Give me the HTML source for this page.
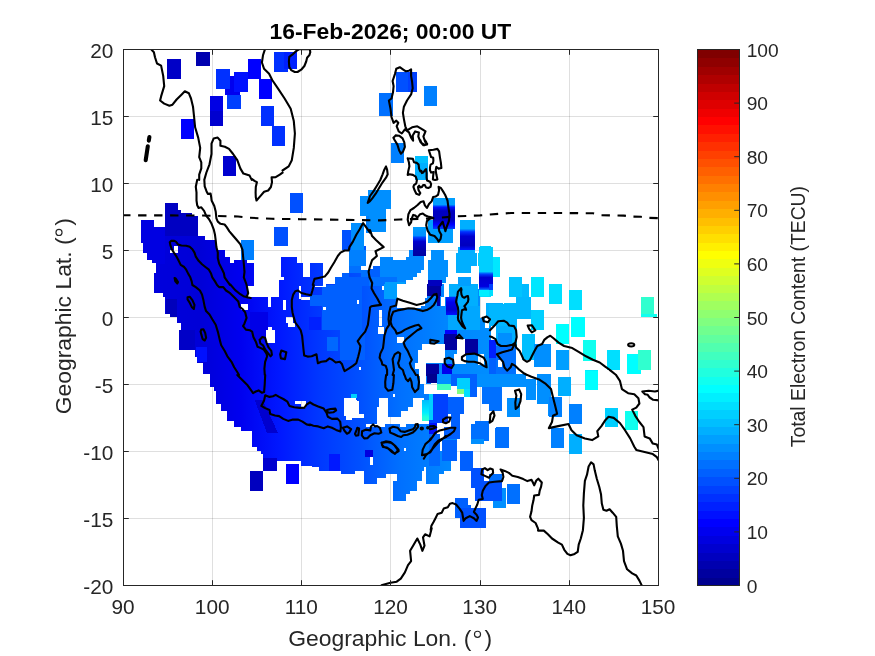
<!DOCTYPE html>
<html><head><meta charset="utf-8"><title>TEC map</title>
<style>html,body{margin:0;padding:0;background:#fff;}body{width:875px;height:656px;position:relative;overflow:hidden;font-family:"Liberation Sans",sans-serif;}</style>
</head><body>
<svg width="875" height="656" viewBox="0 0 875 656" style="position:absolute;left:0;top:0;will-change:transform">
<rect width="875" height="656" fill="#fff"/>
<defs><clipPath id="ax"><rect x="123.50" y="49.50" width="535.00" height="536.00"/></clipPath></defs>
<path d="M212.50 49.50V585.50M301.50 49.50V585.50M390.50 49.50V585.50M480.50 49.50V585.50M569.50 49.50V585.50" stroke="#262626" stroke-opacity="0.15" stroke-width="1" fill="none"/>
<path d="M123.50 518.50H658.50M123.50 451.50H658.50M123.50 384.50H658.50M123.50 317.50H658.50M123.50 250.50H658.50M123.50 183.50H658.50M123.50 116.50H658.50" stroke="#262626" stroke-opacity="0.15" stroke-width="1" fill="none"/>
<g clip-path="url(#ax)">
<g shape-rendering="crispEdges">
<defs><mask id="mm" maskUnits="userSpaceOnUse" x="0" y="0" width="875" height="656"><rect width="875" height="656" fill="#000"/><polygon points="140.7,220.0 154.0,220.0 154.0,226.5 165.4,226.5 165.4,203.2 178.3,203.2 178.3,210.1 180.7,210.1 180.7,212.8 192.4,212.8 192.4,215.8 198.2,215.8 198.2,236.1 205.2,236.1 205.2,240.3 216.4,240.3 216.4,250.1 224.9,250.1 224.9,256.7 230.1,256.7 230.1,263.2 234.2,263.2 234.2,260.1 247.3,260.1 247.3,263.2 250.7,263.2 250.7,285.5 154.4,285.5 154.4,273.2 156.1,273.2 156.1,263.2 151.9,263.2 151.9,259.5 147.1,259.5 147.1,252.6 143.0,252.6 143.0,243.0 140.7,243.0" fill="#fff"/><polygon points="249.3,263.2 254.1,263.2 254.1,285.5 249.3,285.5" fill="#fff"/><polygon points="281.3,257.0 296.6,257.0 296.6,263.2 302.8,263.2 302.8,276.9 310.3,276.9 310.3,263.2 323.4,263.2 323.4,285.5 279.1,285.5 279.1,280.0 283.6,280.0 283.6,277.3 281.3,277.3" fill="#fff"/><polygon points="341.6,230.0 350.8,230.0 350.8,223.1 363.8,223.1 363.8,246.4 365.9,246.4 365.9,266.3 361.1,266.3 361.1,269.7 370.7,269.7 370.7,285.5 335.0,285.5 335.0,276.9 341.6,276.9 341.6,273.2 348.7,273.2 348.7,249.9 341.6,249.9" fill="#fff"/><polygon points="359.7,196.4 367.9,196.4 367.9,189.8 370.7,189.8 370.7,232.7 365.9,232.7 365.9,216.3 359.7,216.3" fill="#fff"/><polygon points="369.3,189.8 390.6,189.8 390.6,209.4 385.8,209.4 385.8,232.0 369.3,232.0" fill="#fff"/><polygon points="379.6,256.7 392.6,256.7 392.6,260.1 406.3,260.1 406.3,256.7 409.1,256.7 409.1,249.9 413.2,249.9 413.2,226.8 426.0,226.8 426.0,256.3 424.2,256.3 424.2,269.7 421.4,269.7 421.4,273.2 417.3,273.2 417.3,277.3 412.5,277.3 412.5,280.0 406.3,280.0 406.3,283.5 397.4,283.5 397.4,285.5 369.3,285.5 369.3,269.1 372.7,269.1 372.7,266.3 379.6,266.3" fill="#fff"/><polygon points="154.4,284.3 154.4,293.2 162.9,293.2 162.9,296.7 165.4,296.7 165.4,313.5 169.8,313.5 169.8,316.8 176.6,316.8 176.6,323.4 180.7,323.4 180.7,330.3 178.7,330.3 178.7,350.1 194.5,350.1 194.5,357.0 196.8,357.0 196.8,363.4 203.4,363.4 203.4,373.5 209.5,373.5 209.5,375.5 250.7,375.5 250.7,297.3 246.6,297.3 246.6,284.3" fill="#fff"/><polygon points="249.3,297.3 267.8,297.3 267.8,306.7 270.6,306.7 270.6,297.3 279.1,297.3 279.1,284.3 298.7,284.3 298.7,298.7 301.4,298.7 301.4,299.8 310.3,299.8 310.3,296.7 301.4,296.7 301.4,284.3 315.1,284.3 315.1,286.6 326.1,286.6 326.1,284.3 370.7,284.3 370.7,375.5 249.3,375.5" fill="#fff"/><polygon points="369.3,284.3 490.7,284.3 490.7,375.5 369.3,375.5" fill="#fff"/><polygon points="209.9,374.3 209.9,387.1 214.4,387.1 214.4,390.8 216.3,390.8 216.3,403.8 220.9,403.8 220.9,410.7 227.3,410.7 227.3,420.5 234.2,420.5 234.2,427.1 241.0,427.1 241.0,430.5 252.4,430.5 252.4,447.3 256.8,447.3 256.8,450.4 261.3,450.4 261.3,453.9 263.6,453.9 263.6,465.5 277.1,465.5 277.1,461.1 301.1,461.1 301.1,465.5 310.7,465.5 310.7,374.3" fill="#fff"/><polygon points="309.3,374.3 430.7,374.3 430.7,465.5 309.3,465.5" fill="#fff"/><polygon points="252.2,439.3 252.2,447.1 256.7,447.1 256.7,450.7 261.3,450.7 261.3,453.7 263.3,453.7 263.3,470.9 276.6,470.9 276.6,460.8 301.0,460.8 301.0,464.7 312.3,464.7 312.3,467.4 319.1,467.4 319.1,470.9 341.1,470.9 341.1,474.3 350.7,474.3 350.7,439.3" fill="#fff"/><polygon points="349.3,439.3 349.3,474.3 354.8,474.3 354.8,470.9 363.7,470.9 363.7,484.2 376.7,484.2 376.7,477.7 385.9,477.7 385.9,474.3 397.3,474.3 397.3,480.9 392.8,480.9 392.8,501.0 406.2,501.0 406.2,494.2 410.3,494.2 410.3,490.7 417.2,490.7 417.2,480.9 421.6,480.9 421.6,470.9 424.1,470.9 424.1,467.4 426.1,467.4 426.1,484.2 439.4,484.2 439.4,474.3 443.9,474.3 443.9,470.9 450.8,470.9 450.8,460.8 454.9,460.8 454.9,450.7 457.0,450.7 457.0,439.3" fill="#fff"/><rect x="173.6" y="246.4" width="4.7" height="6.9" fill="#000"/><rect x="169.8" y="249.9" width="3.8" height="3.4" fill="#000"/><rect x="241.1" y="303.5" width="6.9" height="6.9" fill="#000"/><rect x="283.3" y="300.1" width="2.6" height="9.6" fill="#000"/><rect x="285.9" y="317.2" width="6.6" height="6.2" fill="#000"/><rect x="288.4" y="323.4" width="6.2" height="3.4" fill="#000"/><rect x="265.8" y="330.3" width="8.9" height="13.0" fill="#000"/><rect x="267.8" y="326.8" width="4.1" height="3.4" fill="#000"/><rect x="323.4" y="306.9" width="2.5" height="3.2" fill="#000"/><rect x="357.0" y="300.4" width="2.3" height="3.6" fill="#000"/><rect x="359.3" y="366.9" width="2.1" height="3.4" fill="#000"/><rect x="397.2" y="284.3" width="29.3" height="13.7" fill="#000"/><rect x="397.4" y="298.0" width="27.4" height="7.5" fill="#000"/><rect x="397.4" y="305.6" width="23.3" height="2.5" fill="#000"/><rect x="444.1" y="284.3" width="4.8" height="12.3" fill="#000"/><rect x="441.3" y="296.7" width="3.4" height="8.9" fill="#000"/><rect x="478.3" y="284.3" width="12.3" height="4.8" fill="#000"/><rect x="422.1" y="344.0" width="22.6" height="6.2" fill="#000"/><rect x="418.0" y="350.1" width="26.7" height="13.0" fill="#000"/><rect x="414.6" y="363.2" width="11.7" height="5.5" fill="#000"/><rect x="418.7" y="368.7" width="7.5" height="6.9" fill="#000"/><rect x="457.1" y="339.2" width="7.5" height="14.4" fill="#000"/><rect x="453.7" y="353.6" width="12.3" height="10.3" fill="#000"/><rect x="478.3" y="353.6" width="5.5" height="11.0" fill="#000"/><rect x="377.5" y="326.8" width="6.2" height="6.9" fill="#000"/><rect x="378.9" y="310.4" width="2.7" height="15.8" fill="#000"/><rect x="396.7" y="337.1" width="6.9" height="6.2" fill="#000"/><rect x="381.7" y="286.4" width="2.1" height="3.4" fill="#000"/><rect x="479.7" y="297.1" width="11.0" height="6.7" fill="#000"/><rect x="480.3" y="303.8" width="6.4" height="14.5" fill="#000"/><rect x="484.8" y="318.3" width="3.7" height="9.2" fill="#000"/><rect x="294.9" y="401.1" width="11.0" height="2.7" fill="#000"/><rect x="301.1" y="403.8" width="4.8" height="4.1" fill="#000"/><polygon points="343.6,397.6 355.3,397.6 357.3,401.1 359.4,401.1 359.4,414.1 363.5,414.1 363.5,417.5 351.8,417.5 351.8,420.3 345.7,420.3 345.7,416.1 343.6,416.1" fill="#000"/><polygon points="379.3,397.6 388.2,397.6 388.2,416.8 401.2,416.8 401.2,410.7 408.1,410.7 408.1,407.2 412.9,407.2 412.9,397.6 423.8,397.6 423.8,400.4 421.8,400.4 421.8,420.9 430.7,420.9 430.7,423.7 406.0,423.7 406.0,427.1 399.8,427.1 399.8,423.7 385.4,423.7 385.4,427.1 366.2,427.1 366.2,423.7 377.2,423.7 377.2,407.2 379.3,407.2" fill="#000"/><rect x="419.7" y="374.3" width="6.6" height="9.6" fill="#000"/><rect x="423.8" y="383.9" width="6.9" height="10.0" fill="#000"/><rect x="392.7" y="394.2" width="2.1" height="2.7" fill="#000"/><rect x="403.9" y="447.7" width="2.1" height="3.0" fill="#000"/><rect x="370.3" y="457.3" width="2.5" height="6.9" fill="#000"/><rect x="370.3" y="457.6" width="2.3" height="7.1" fill="#000"/><rect x="403.9" y="447.5" width="2.3" height="3.7" fill="#000"/><rect x="439.4" y="441.4" width="2.2" height="9.3" fill="#000"/></mask><linearGradient id="base" gradientUnits="userSpaceOnUse" x1="130" y1="0" x2="500" y2="0"><stop offset="0.0000" stop-color="#0000df"/><stop offset="0.1892" stop-color="#0000d7"/><stop offset="0.2973" stop-color="#0000ef"/><stop offset="0.4054" stop-color="#0018ff"/><stop offset="0.5135" stop-color="#0038ff"/><stop offset="0.6216" stop-color="#0050ff"/><stop offset="0.7297" stop-color="#0070ff"/><stop offset="0.8649" stop-color="#0087ff"/><stop offset="1.0000" stop-color="#008fff"/></linearGradient><linearGradient id="g1" x1="0" y1="0" x2="0" y2="1"><stop offset="0.000" stop-color="#0030ff"/><stop offset="0.300" stop-color="#0000ef"/><stop offset="0.700" stop-color="#0000cf"/><stop offset="1.000" stop-color="#0010ff"/></linearGradient><linearGradient id="g2" x1="0" y1="0" x2="0" y2="1"><stop offset="0.000" stop-color="#00bfff"/><stop offset="0.600" stop-color="#00efff"/><stop offset="0.800" stop-color="#20ffdf"/><stop offset="1.000" stop-color="#30ffcf"/></linearGradient><linearGradient id="g3" x1="0" y1="0" x2="0" y2="1"><stop offset="0.000" stop-color="#009fff"/><stop offset="0.300" stop-color="#008fff"/><stop offset="0.360" stop-color="#0040ff"/><stop offset="0.500" stop-color="#0000cf"/><stop offset="0.750" stop-color="#0000af"/><stop offset="1.000" stop-color="#00009f"/></linearGradient><linearGradient id="g4" x1="0" y1="0" x2="0" y2="1"><stop offset="0.000" stop-color="#009fff"/><stop offset="0.220" stop-color="#009fff"/><stop offset="0.300" stop-color="#0010ff"/><stop offset="0.420" stop-color="#0000bf"/><stop offset="0.700" stop-color="#0000bf"/><stop offset="0.850" stop-color="#0000ff"/><stop offset="1.000" stop-color="#0040ff"/></linearGradient><linearGradient id="g5" x1="0" y1="0" x2="0" y2="1"><stop offset="0.000" stop-color="#00afff"/><stop offset="0.300" stop-color="#00afff"/><stop offset="0.400" stop-color="#0030ff"/><stop offset="0.550" stop-color="#0000cf"/><stop offset="0.850" stop-color="#0000bf"/><stop offset="1.000" stop-color="#0010ff"/></linearGradient><linearGradient id="g6" x1="0" y1="0" x2="0" y2="1"><stop offset="0.000" stop-color="#0040ff"/><stop offset="0.350" stop-color="#0000df"/><stop offset="1.000" stop-color="#0000af"/></linearGradient><linearGradient id="g7" x1="0" y1="0" x2="0" y2="1"><stop offset="0.000" stop-color="#00cfff"/><stop offset="0.500" stop-color="#00cfff"/><stop offset="0.550" stop-color="#0040ff"/><stop offset="0.620" stop-color="#0000cf"/><stop offset="0.800" stop-color="#0000df"/><stop offset="0.860" stop-color="#0060ff"/><stop offset="0.880" stop-color="#00efff"/><stop offset="1.000" stop-color="#00efff"/></linearGradient></defs><g mask="url(#mm)"><rect x="100" y="40" width="500" height="560" fill="url(#base)"/>
<rect x="165.4" y="203.2" width="33.2" height="32.9" fill="#0000c2"/>
<rect x="140.7" y="220.0" width="24.7" height="43.6" fill="#0000e2"/>
<rect x="341.6" y="230.0" width="9.2" height="19.9" fill="#0050ff"/>
<rect x="350.8" y="223.1" width="13.0" height="26.7" fill="#008fff"/>
<rect x="348.7" y="249.9" width="17.1" height="16.5" fill="#0080ff"/>
<rect x="359.7" y="189.5" width="11.0" height="26.7" fill="#008fff"/>
<rect x="365.9" y="216.3" width="4.8" height="16.5" fill="#0080ff"/>
<rect x="335.0" y="276.9" width="35.7" height="8.6" fill="#0060ff"/>
<rect x="341.6" y="273.2" width="7.1" height="3.7" fill="#0060ff"/>
<rect x="348.7" y="266.3" width="12.3" height="6.9" fill="#0070ff"/>
<rect x="361.1" y="269.7" width="9.6" height="7.5" fill="#0070ff"/>
<rect x="369.3" y="189.5" width="21.3" height="19.9" fill="#008fff"/>
<rect x="369.3" y="209.4" width="16.5" height="22.6" fill="#008fff"/>
<rect x="379.6" y="249.9" width="46.6" height="35.7" fill="#0087ff"/>
<rect x="369.3" y="266.3" width="10.3" height="19.2" fill="#0060ff"/>
<rect x="369.3" y="277.3" width="28.1" height="8.2" fill="#0070ff"/>
<rect x="165.7" y="298.7" width="11.0" height="17.8" fill="#0000bc"/>
<rect x="178.7" y="330.3" width="15.8" height="19.9" fill="#0000c7"/>
<rect x="195.8" y="346.7" width="11.0" height="15.1" fill="#0010ff"/>
<rect x="250.0" y="312.4" width="17.8" height="27.4" fill="#0000e7"/>
<rect x="326.8" y="337.1" width="11.0" height="13.7" fill="#0068ff"/>
<rect x="310.3" y="294.6" width="13.7" height="11.0" fill="#0060ff"/>
<rect x="309.0" y="316.5" width="12.3" height="13.7" fill="#0020ff"/>
<rect x="426.2" y="284.3" width="15.1" height="11.7" fill="#00009f"/>
<rect x="437.2" y="296.0" width="2.7" height="9.6" fill="#0000af"/>
<rect x="444.1" y="333.7" width="13.0" height="15.8" fill="#00009f"/>
<rect x="444.7" y="330.3" width="12.3" height="3.7" fill="#0000ff"/>
<rect x="464.6" y="338.5" width="13.7" height="15.1" fill="#00009f"/>
<rect x="426.2" y="363.9" width="13.0" height="11.7" fill="#00009f"/>
<rect x="442.0" y="363.9" width="10.3" height="11.7" fill="#0000ef"/>
<rect x="448.2" y="305.6" width="31.5" height="24.7" fill="#00a7ff"/>
<rect x="457.8" y="284.3" width="20.6" height="21.3" fill="#00afff"/>
<rect x="383.7" y="284.3" width="13.0" height="14.4" fill="#009fff"/>
<rect x="448.2" y="284.3" width="30.2" height="11.7" fill="#00afff"/>
<rect x="479.7" y="289.1" width="11.0" height="7.5" fill="#00dfff"/>
<rect x="446.1" y="296.7" width="10.6" height="18.1" fill="url(#g1)"/>
<polygon points="254.5,399.7 262.7,399.7 277.8,432.6 266.8,432.6" fill="#0000cf"/>
<rect x="426.6" y="374.3" width="4.1" height="8.9" fill="#00008f"/>
<rect x="351.1" y="394.2" width="6.2" height="3.4" fill="#00cfff"/>
<rect x="421.8" y="400.4" width="8.9" height="20.6" fill="url(#g2)"/>
<rect x="263.3" y="457.8" width="13.3" height="13.0" fill="#0000cf"/>
<rect x="328.7" y="453.7" width="11.0" height="17.1" fill="#0018ff"/>
<rect x="365.1" y="449.6" width="8.2" height="6.9" fill="#0000df"/>
<rect x="322.0" y="285.0" width="40.0" height="45.0" fill="#0060ff"/>
<rect x="340.0" y="330.0" width="25.0" height="30.0" fill="#0060ff"/>
<rect x="385.0" y="282.0" width="20.0" height="16.0" fill="#009fff"/>
</g>
<rect x="167.3" y="59.0" width="13.4" height="20.0" fill="#0000c7"/>
<rect x="196.1" y="52.2" width="13.6" height="13.4" fill="#0000af"/>
<rect x="225.3" y="75.9" width="15.0" height="19.5" fill="#0000ef"/>
<rect x="216.3" y="69.1" width="13.4" height="19.7" fill="#0030ff"/>
<rect x="234.2" y="72.4" width="13.6" height="19.5" fill="#0010ff"/>
<rect x="247.7" y="59.0" width="13.4" height="20.0" fill="#0000ff"/>
<rect x="259.1" y="78.9" width="13.2" height="20.0" fill="#0000ff"/>
<rect x="274.3" y="52.2" width="13.4" height="20.0" fill="#0030ff"/>
<rect x="283.5" y="52.2" width="13.0" height="16.5" fill="#0020ff"/>
<rect x="209.7" y="96.0" width="13.2" height="14.8" fill="#0000e4"/>
<rect x="209.7" y="110.8" width="13.2" height="14.8" fill="#0000cf"/>
<rect x="227.4" y="95.4" width="13.4" height="13.4" fill="#0040ff"/>
<rect x="261.1" y="105.9" width="13.2" height="19.7" fill="#0030ff"/>
<rect x="272.2" y="125.8" width="13.2" height="20.0" fill="#0030ff"/>
<rect x="180.7" y="119.1" width="13.4" height="20.0" fill="#0000ff"/>
<rect x="222.9" y="156.1" width="13.4" height="20.0" fill="#0000cf"/>
<rect x="396.3" y="72.4" width="13.8" height="20.0" fill="#0050ff"/>
<rect x="408.0" y="72.4" width="9.3" height="20.0" fill="#0040ff"/>
<rect x="379.2" y="92.7" width="13.4" height="23.2" fill="#0070ff"/>
<rect x="423.8" y="85.7" width="13.4" height="20.0" fill="#0080ff"/>
<rect x="390.6" y="142.9" width="13.5" height="19.8" fill="#0080ff"/>
<rect x="415.1" y="156.0" width="13.1" height="11.4" fill="#00bfff"/>
<rect x="415.1" y="162.9" width="13.1" height="16.6" fill="#00afff"/>
<rect x="241.1" y="240.3" width="13.0" height="19.2" fill="#0080ff"/>
<rect x="290.0" y="192.9" width="13.0" height="19.9" fill="#0050ff"/>
<rect x="274.4" y="226.5" width="13.3" height="19.9" fill="#0050ff"/>
<rect x="428.3" y="219.7" width="4.8" height="23.3" fill="#009fff"/>
<rect x="433.1" y="229.3" width="19.9" height="13.7" fill="#009fff"/>
<rect x="431.0" y="249.9" width="13.0" height="10.3" fill="#008fff"/>
<rect x="428.3" y="260.1" width="19.9" height="17.1" fill="#008fff"/>
<rect x="428.3" y="277.3" width="17.8" height="5.5" fill="#008fff"/>
<rect x="428.3" y="280.0" width="13.7" height="5.5" fill="#0000bf"/>
<rect x="457.8" y="247.1" width="17.1" height="5.5" fill="#00afff"/>
<rect x="455.7" y="252.6" width="21.3" height="13.7" fill="#00afff"/>
<rect x="455.7" y="266.3" width="15.1" height="6.9" fill="#00afff"/>
<rect x="457.8" y="276.9" width="13.0" height="8.6" fill="#009fff"/>
<rect x="479.7" y="246.4" width="11.0" height="23.3" fill="#00cfff"/>
<rect x="477.7" y="252.6" width="2.1" height="13.7" fill="#00cfff"/>
<rect x="413.2" y="226.8" width="12.8" height="29.5" fill="url(#g3)"/>
<rect x="433.1" y="197.7" width="21.9" height="31.5" fill="url(#g4)"/>
<rect x="459.8" y="219.7" width="15.1" height="30.2" fill="url(#g5)"/>
<rect x="479.7" y="269.7" width="11.0" height="15.8" fill="url(#g6)"/>
<rect x="493.4" y="257.1" width="6.6" height="19.5" fill="#00e7ff"/>
<rect x="516.0" y="283.9" width="13.0" height="19.5" fill="#00baff"/>
<rect x="508.8" y="276.7" width="13.4" height="20.0" fill="#00c4ff"/>
<rect x="531.0" y="276.7" width="13.4" height="20.0" fill="#00e7ff"/>
<rect x="548.9" y="283.5" width="13.4" height="20.0" fill="#00dfff"/>
<rect x="568.9" y="290.1" width="13.4" height="20.0" fill="#00dfff"/>
<rect x="640.5" y="296.8" width="13.4" height="20.0" fill="#30ffcf"/>
<rect x="486.2" y="303.4" width="16.5" height="12.3" fill="#00afff"/>
<rect x="503.7" y="303.4" width="27.4" height="12.3" fill="#00bfff"/>
<rect x="531.0" y="310.0" width="13.4" height="5.8" fill="#00dfff"/>
<rect x="479.0" y="246.9" width="14.4" height="49.4" fill="url(#g7)"/>
<rect x="531.1" y="284.3" width="13.0" height="12.3" fill="#00e7ff"/>
<rect x="549.0" y="284.3" width="13.0" height="19.2" fill="#00dfff"/>
<rect x="569.3" y="290.2" width="12.9" height="19.9" fill="#00dfff"/>
<rect x="570.9" y="317.2" width="13.7" height="19.6" fill="#00ffff"/>
<rect x="555.8" y="323.7" width="13.4" height="20.0" fill="#00ffff"/>
<rect x="582.6" y="340.3" width="13.0" height="20.2" fill="#10ffef"/>
<rect x="584.6" y="370.3" width="13.0" height="5.2" fill="#00efff"/>
<rect x="531.1" y="310.1" width="13.0" height="20.2" fill="#00cfff"/>
<rect x="489.3" y="303.5" width="41.8" height="15.8" fill="#00b7ff"/>
<rect x="516.1" y="296.7" width="15.1" height="6.9" fill="#00b7ff"/>
<rect x="489.3" y="284.3" width="3.4" height="5.5" fill="#0040ff"/>
<rect x="489.3" y="289.8" width="3.4" height="6.2" fill="#00dfff"/>
<rect x="489.3" y="319.3" width="27.4" height="6.9" fill="#00b7ff"/>
<rect x="496.2" y="326.1" width="20.6" height="19.9" fill="#00afff"/>
<rect x="521.5" y="333.7" width="13.7" height="26.1" fill="#00bfff"/>
<rect x="533.9" y="344.0" width="17.1" height="22.9" fill="#008fff"/>
<rect x="555.8" y="350.6" width="13.4" height="19.7" fill="#009fff"/>
<rect x="498.2" y="333.0" width="13.7" height="12.3" fill="#008fff"/>
<rect x="489.3" y="339.9" width="6.9" height="17.8" fill="#0020ff"/>
<rect x="489.3" y="357.7" width="6.9" height="17.8" fill="#0060ff"/>
<rect x="495.5" y="346.0" width="20.6" height="29.5" fill="#0070ff"/>
<rect x="537.3" y="373.5" width="13.7" height="2.1" fill="#008fff"/>
<rect x="498.2" y="360.4" width="3.8" height="6.4" fill="#fff"/>
<rect x="429.3" y="374.3" width="7.5" height="8.2" fill="#00008f"/>
<rect x="436.9" y="374.3" width="13.7" height="9.6" fill="#008fff"/>
<rect x="436.9" y="383.9" width="13.7" height="6.2" fill="#40ffbf"/>
<rect x="450.6" y="374.3" width="26.1" height="11.7" fill="#0060ff"/>
<rect x="464.3" y="386.0" width="12.3" height="11.0" fill="#0060ff"/>
<rect x="457.4" y="377.7" width="12.3" height="11.0" fill="#00cfff"/>
<rect x="464.3" y="388.7" width="5.5" height="8.2" fill="#00dfff"/>
<rect x="457.4" y="388.7" width="6.9" height="5.5" fill="#80ff80"/>
<rect x="476.6" y="374.3" width="49.4" height="13.0" fill="#008fff"/>
<rect x="526.0" y="379.1" width="9.6" height="21.3" fill="#008fff"/>
<rect x="537.0" y="374.3" width="13.7" height="29.5" fill="#008fff"/>
<rect x="547.9" y="403.8" width="2.7" height="12.3" fill="#008fff"/>
<rect x="482.1" y="387.3" width="19.9" height="16.5" fill="#0070ff"/>
<rect x="489.0" y="403.8" width="13.0" height="6.9" fill="#0070ff"/>
<rect x="506.8" y="397.6" width="13.0" height="19.6" fill="#008fff"/>
<rect x="429.3" y="394.2" width="18.5" height="28.8" fill="#0040ff"/>
<rect x="429.3" y="394.2" width="3.4" height="26.1" fill="#00cfff"/>
<rect x="447.8" y="396.9" width="15.8" height="17.1" fill="#0060ff"/>
<rect x="450.6" y="414.1" width="9.6" height="15.8" fill="#0060ff"/>
<rect x="471.1" y="424.4" width="4.1" height="19.2" fill="#0070ff"/>
<rect x="475.3" y="420.9" width="13.4" height="19.6" fill="#0070ff"/>
<rect x="471.1" y="440.6" width="13.0" height="3.0" fill="#0070ff"/>
<rect x="495.6" y="427.4" width="13.3" height="19.9" fill="#0070ff"/>
<rect x="460.2" y="451.1" width="13.0" height="14.4" fill="#0060ff"/>
<rect x="429.3" y="423.0" width="7.5" height="15.1" fill="#0010ff"/>
<rect x="429.3" y="434.0" width="10.3" height="31.5" fill="#0068ff"/>
<rect x="441.7" y="439.5" width="15.1" height="21.9" fill="#0060ff"/>
<rect x="443.7" y="427.1" width="15.8" height="12.3" fill="#0060ff"/>
<rect x="249.9" y="470.9" width="13.4" height="20.2" fill="#0000bf"/>
<rect x="285.5" y="464.4" width="13.4" height="19.7" fill="#0000ff"/>
<rect x="459.7" y="451.0" width="11.0" height="19.9" fill="#0070ff"/>
<rect x="455.3" y="497.9" width="12.9" height="6.6" fill="#0060ff"/>
<rect x="455.3" y="504.5" width="4.4" height="13.0" fill="#0060ff"/>
<rect x="459.7" y="504.5" width="11.0" height="23.3" fill="#0060ff"/>
<rect x="459.9" y="451.0" width="13.0" height="19.9" fill="#0060ff"/>
<rect x="471.1" y="468.1" width="13.0" height="19.9" fill="#0050ff"/>
<rect x="493.1" y="488.0" width="13.0" height="19.9" fill="#008fff"/>
<rect x="475.3" y="481.1" width="26.7" height="19.9" fill="#0050ff"/>
<rect x="489.0" y="474.3" width="13.0" height="6.9" fill="#0070ff"/>
<rect x="506.5" y="484.2" width="13.3" height="20.0" fill="#0070ff"/>
<rect x="455.4" y="497.9" width="13.0" height="20.3" fill="#0060ff"/>
<rect x="459.9" y="507.9" width="26.3" height="19.9" fill="#0050ff"/>
<rect x="495.6" y="439.3" width="13.3" height="8.2" fill="#0080ff"/>
<rect x="471.1" y="439.3" width="13.0" height="4.5" fill="#008fff"/>
<rect x="584.9" y="370.5" width="13.4" height="19.5" fill="#00ffff"/>
<rect x="607.1" y="350.4" width="13.2" height="19.7" fill="#00dfff"/>
<rect x="627.1" y="354.1" width="13.4" height="19.5" fill="#00ffff"/>
<rect x="638.4" y="350.4" width="13.0" height="19.7" fill="#30ffcf"/>
<rect x="605.1" y="407.6" width="12.8" height="19.5" fill="#00cfff"/>
<rect x="625.0" y="410.7" width="13.0" height="19.5" fill="#10ffef"/>
<rect x="558.2" y="376.7" width="12.8" height="19.5" fill="#00afff"/>
<rect x="568.9" y="403.9" width="13.4" height="19.7" fill="#0080ff"/>
<rect x="548.9" y="397.1" width="13.2" height="20.0" fill="#0080ff"/>
<rect x="551.0" y="427.7" width="13.4" height="20.0" fill="#0080ff"/>
<rect x="568.9" y="434.3" width="13.4" height="18.5" fill="#00afff"/>
<rect x="495.4" y="427.7" width="13.4" height="20.0" fill="#0070ff"/>
<rect x="556.1" y="350.0" width="12.8" height="20.2" fill="#009fff"/>
<rect x="640.5" y="314.0" width="16.5" height="3.1" fill="#10ffef"/>
<rect x="568.9" y="449.0" width="13.4" height="4.7" fill="#00afff"/>
</g>
<path d="M150.9 49.1L153.9 52.2L155.0 57.3L157.0 63.5L161.1 65.6L163.2 75.9L164.2 86.1L161.1 96.4L160.1 100.5L164.2 103.6L169.4 105.7L172.5 104.7L176.6 99.5L181.7 94.4L184.8 91.3L188.9 93.3L191.0 98.5L193.0 106.7L194.1 117.0L195.1 127.3L198.2 137.6L200.2 147.9L199.2 157.1L201.3 162.3L201.3 168.4L199.2 174.6L199.2 179.9M204.3 179.9L206.4 172.5L209.5 164.3L211.5 154.0L211.5 143.7L213.6 138.6L217.7 137.6L220.4 140.7L220.4 145.8L224.9 146.8L229.0 148.9L233.1 154.0L237.3 160.2L240.3 168.4L243.4 173.6L249.6 175.6L251.7 179.9M265.0 49.1L263.0 55.3L261.9 62.5L264.0 68.7L269.1 73.8L272.2 80.0L278.4 89.2L284.6 98.5L290.7 108.8L293.8 121.1L294.9 133.5L293.8 147.9L291.8 160.2L288.7 166.4L282.5 170.5M396.3 68.7L399.8 67.2L402.9 69.3L405.9 71.3L409.0 70.7L411.1 69.3L411.1 75.9L412.1 82.0L412.7 88.2L411.1 94.4L407.0 100.5L403.9 106.7L402.9 112.9L403.9 119.1L405.3 126.3L407.0 130.4L412.1 127.3L417.3 126.3L422.4 129.3L425.5 131.4L423.4 136.5L425.1 141.7L427.1 143.7L423.4 145.2L420.3 141.7L418.3 136.5L418.9 132.4L415.2 131.4L412.7 135.5L413.1 140.7L411.1 137.6L409.0 132.4L404.9 129.3L401.8 133.5L398.7 131.4L396.7 126.3L398.3 122.8L396.3 120.7L393.6 122.8L391.5 117.0L390.5 108.8L388.9 100.5L391.5 98.5L393.0 92.3L393.6 86.1L392.6 81.0L395.0 73.8L396.3 68.7M395.7 135.4L393.4 137.7L394.6 140.0L397.4 144.6L399.1 150.3L400.9 153.7L403.1 151.4L404.9 146.9L404.3 142.3L402.6 138.3L399.1 135.7L395.7 135.4M420.3 140.0L421.4 142.9L424.9 145.1L427.1 144.6L426.0 141.7L424.9 140.0M428.9 150.3L433.4 149.7L437.4 148.9L439.1 151.4L439.9 157.1L440.9 162.9L441.4 168.0L438.6 168.6L436.3 166.9L435.7 170.3L436.3 174.3L437.4 179.4L435.1 180.0L432.9 179.4L433.2 175.4L433.7 172.0L431.1 172.6L430.0 170.3L430.0 167.4L430.6 164.6L432.9 163.4L433.4 160.6L433.2 157.7L431.1 157.1L430.0 153.7L428.9 150.3M407.7 158.3L412.9 158.9L414.0 162.3L416.9 162.9L418.6 164.6L419.1 168.6L420.3 171.4L421.4 170.9L422.0 173.1L423.1 172.6L424.9 170.3L426.0 169.1L426.6 173.1L426.6 177.7L427.1 180.6L430.0 181.7L431.1 184.0L430.6 186.9L428.3 188.0L426.0 187.4L424.9 185.1L423.1 185.1L422.0 186.9L420.3 187.4L419.1 185.7L418.0 186.9L418.6 190.3L420.3 193.1L419.1 194.9L416.3 193.7L414.6 190.3L413.4 186.9L414.0 185.1L416.3 183.4L416.9 180.0L415.7 176.6L412.9 174.9L409.4 174.3L407.7 174.9L408.3 170.9L409.4 166.3L408.9 162.3L407.7 158.3M386.0 166.5L387.1 169.7L387.7 174.3L386.0 177.7L382.6 182.3L379.1 188.0L375.7 193.7L372.3 198.3L370.0 201.1L367.7 202.9L368.9 199.4L370.0 196.0L373.4 191.4L376.9 185.7L380.3 180.0L382.6 174.3L384.3 169.7L386.0 166.5M169.8 242.3L171.1 240.9L173.9 240.7L175.9 241.6L178.0 244.4L181.4 245.5L186.2 245.7L189.7 246.8L192.4 249.2L194.5 252.6L195.8 256.7L198.6 260.8L202.0 264.3L205.4 267.0L208.9 269.7L210.9 273.2L212.3 277.3L215.0 281.4L217.1 285.0M169.8 242.3L170.5 245.7L171.8 249.2L173.9 252.6L176.6 256.7L178.7 260.8L180.7 264.9L184.2 267.0L186.2 269.7L188.3 273.9L190.3 277.3L191.7 281.4L192.4 285.0M197.2 179.9L195.8 186.8L196.5 192.3L196.5 200.5L197.2 205.3L198.6 208.0L201.3 207.3L204.1 210.8L206.1 215.6L208.9 219.0L211.6 223.8L213.7 229.3L215.0 234.8L215.7 240.3L216.4 247.1L217.8 252.6L217.8 258.1L219.1 263.6L221.9 269.1L223.9 273.2L224.6 277.3L227.4 281.4L230.1 285.0M204.3 179.5L204.7 186.4L206.5 191.2L207.8 193.9L210.6 193.6L211.2 197.1L211.6 200.5L214.3 206.0L215.7 211.5L216.4 218.3L217.8 221.7L220.5 223.8L224.6 224.5L226.7 227.2L229.4 231.3L232.9 235.5L237.0 240.3L240.4 244.4L242.5 249.9L243.1 256.7L243.8 263.6L244.5 271.8L243.8 277.3L245.9 282.8L246.6 285.0M174.6 278.0L175.9 278.7L178.0 282.1L177.3 283.5L175.3 281.4L174.6 278.0M370.0 232.7L366.6 227.9L363.1 223.1L359.7 229.3L356.3 234.8L352.9 241.6L349.4 247.1L348.7 250.5L344.6 250.5L340.5 252.6L337.8 256.0L334.3 262.2L330.9 267.7L328.2 272.5L324.7 276.6L318.6 278.0L314.5 278.9L313.4 282.8L312.8 285.0M409.1 225.2L407.7 219.7L408.4 214.2L410.5 210.1L413.9 208.0L417.3 205.3L420.7 201.9L423.5 201.2L424.9 205.3L426.9 208.0L429.0 203.9L431.7 201.2L433.1 197.1L435.8 196.4L438.0 194.9L439.1 190.3L438.6 186.9L440.9 188.0L443.1 191.4L445.2 195.0M445.2 195.0L447.5 200.5L448.4 207.3L449.5 214.2L448.9 221.1L446.8 226.5L445.4 231.3L444.1 226.5L442.7 221.7L440.6 224.5L438.6 227.2L439.3 231.3L441.3 234.8L440.6 238.9L438.6 241.6L437.2 238.9L434.5 236.1L430.3 234.8L427.6 230.7L426.2 225.2L426.9 221.1L430.3 218.3L432.4 217.6L429.0 216.9L425.5 215.6L422.8 213.5L420.1 214.2L417.3 217.6L415.3 215.6L413.2 214.9L411.8 218.3L411.1 222.4L409.1 225.2M370.0 230.0L372.1 236.1L376.2 240.3L383.7 247.1L375.5 251.2L376.9 256.0L372.1 260.1L370.0 266.3L368.6 271.8L369.5 277.3L372.2 283.0L371.6 287.6M192.4 285.0L195.8 287.1L199.9 290.5L202.0 294.6L203.4 300.1L204.7 306.9L206.1 311.1L209.5 314.5L212.3 319.3L215.7 324.8L217.8 331.6L219.8 339.9L221.2 345.3L224.6 350.8L227.4 356.3L231.5 361.8L234.2 367.3L237.7 372.8L239.0 375.0M217.1 285.0L219.1 287.1L223.3 287.1L226.0 290.5L230.1 293.2L234.2 297.3L238.3 301.5L239.7 306.9L242.5 309.0L245.2 312.4L246.6 317.9L244.5 323.4L243.1 326.1L245.9 329.6L250.0 330.3M246.6 285.0L248.2 293.2L246.6 297.1L250.7 298.0M230.1 284.3L235.2 290.1L240.3 294.2L243.4 296.2L246.6 297.1M187.6 297.3L189.7 296.7L192.4 300.1L194.5 304.9L193.8 309.0L191.7 306.9L189.7 302.8L187.6 299.4L187.6 297.3M201.3 329.6L203.4 329.2L205.2 333.0L206.1 337.8L204.7 340.5L202.7 339.2L201.3 334.4L200.6 331.6L201.3 329.6M313.8 285.0L312.4 290.5L311.0 295.3L306.2 294.3L301.4 293.0L298.0 290.5L295.3 291.2L293.2 294.6L291.8 300.1L291.8 306.9L292.5 312.4L293.9 317.9L295.3 322.7L298.0 326.1L300.7 330.3L302.1 335.7L302.8 342.6L303.5 349.5L304.2 355.6L307.6 356.6L311.7 356.3L316.5 354.3L317.2 359.1L317.9 363.2L321.3 361.8L326.1 361.1L329.5 358.4L332.3 359.7L335.7 362.5L339.8 361.8L341.9 363.9L343.3 368.0L344.6 371.1L348.7 368.7L352.9 365.9L356.3 363.2L358.3 356.3L359.7 350.8L360.4 346.0L357.7 341.2L361.1 336.4L365.2 331.6L367.9 324.8L369.0 316.5L370.0 308.3M250.0 330.3L252.1 331.6L253.4 337.1L256.2 342.6L257.5 346.7L261.0 348.1L263.7 349.5L266.5 353.6L267.1 356.3L265.1 361.8L264.4 368.7L264.8 375.0M259.6 339.9L262.3 337.1L265.1 337.8L266.5 342.6L268.5 347.4L271.3 350.8L271.9 354.9L270.6 356.3L267.8 352.9L265.1 349.5L263.0 345.3L260.3 343.3L259.6 339.9M281.3 350.6L286.3 352.2L285.0 359.1L280.9 358.4L280.2 354.3L281.3 350.6M397.4 298.7L402.9 300.8L409.8 302.8L416.6 304.9L422.8 303.5L427.6 301.5L431.0 298.0L433.8 294.6L436.5 293.9L437.2 297.3L435.8 301.5L433.8 304.9L431.0 307.6L427.6 309.7L422.8 311.1L418.0 309.7L413.9 308.6L408.4 308.3L402.9 309.4L397.4 310.4L393.3 311.7L391.3 316.5L390.6 322.0L391.9 326.1L395.4 330.3L396.7 333.7L400.9 332.3L405.0 329.6L409.8 327.5L415.3 325.5L418.7 324.8L421.4 328.2L417.3 330.3L413.9 333.0L409.8 336.4L406.3 339.2L403.6 342.6L405.0 346.7L407.7 350.8L409.8 355.6L411.8 359.7L409.8 363.2L411.1 367.3L413.9 371.4L415.9 375.0M397.4 298.7L396.7 302.1L396.1 305.6L390.6 306.9L389.2 312.4L388.5 319.3L389.2 324.8L386.5 328.9L384.4 335.7L383.7 342.6L383.0 348.1L380.3 353.6L379.6 357.7L381.7 361.8L382.3 364.5L385.8 365.9L387.1 370.0L387.1 375.0M392.6 375.0L394.0 370.0L393.3 364.5L392.6 359.1L394.7 354.3L398.1 352.2L400.2 353.6L399.5 359.1L398.1 363.2L399.5 367.3L402.9 370.0L404.3 375.0M371.6 288.4L374.1 293.2L377.5 298.7L379.6 302.8L381.0 304.9L375.5 305.6L371.4 306.3L370.0 307.6M430.3 339.9L438.6 341.2L434.5 343.7L430.3 343.3L430.3 339.9M456.4 337.8L459.1 334.6L462.6 338.5L456.4 337.8M482.5 317.9L486.6 316.5L490.0 319.3L487.9 322.3L483.8 321.3L482.5 317.9M444.7 359.1L448.9 357.7L453.0 359.7L453.7 364.5L451.6 368.0L447.5 366.6L444.7 363.2L444.7 359.1M461.9 357.0L466.0 354.3L474.2 353.6L479.7 355.6L483.8 357.7L485.9 361.8L486.6 367.3L483.8 365.9L479.7 363.2L474.2 361.8L468.7 361.8L464.6 361.1L461.9 359.7L461.9 357.0M490.0 330.3L494.1 326.1L498.2 321.3L503.7 320.7L507.1 322.7L509.2 325.5L514.0 326.1L516.1 330.3L516.7 337.1L515.4 342.6L512.6 344.7L506.5 346.0L501.0 346.0L497.5 344.0L495.5 339.2L492.1 337.1L490.0 336.4M496.9 354.3L502.3 352.2L507.8 350.8L511.9 349.5L514.0 345.3L515.4 344.0L516.1 347.4L519.5 350.8L521.5 354.9L523.6 359.7L527.0 361.8L529.8 360.4L531.8 356.3L534.6 350.8L537.3 346.0L542.1 344.0L544.2 339.9L547.6 337.1L550.3 335.7L553.8 338.5L558.6 342.6L564.1 346.0L572.3 348.1L579.1 352.2L586.0 356.3L592.9 359.7L599.7 362.5L605.2 366.6L610.0 370.0M496.9 354.3L499.6 357.7L503.0 361.8L504.4 367.3L507.1 370.7L510.6 367.3L511.9 363.9L515.4 365.9L519.5 370.0L524.3 373.5L527.0 375.0M527.7 325.5L531.8 325.2L535.3 330.3L531.8 332.3L529.1 328.9L527.7 325.5M237.3 375.0L242.8 380.5L247.6 385.3L251.0 390.1L253.1 393.1L255.8 391.5L258.6 390.4L262.0 392.8L264.1 392.1L264.7 384.6L265.2 375.0M310.0 402.4L306.6 404.5L304.5 407.6L299.7 407.9L294.2 407.2L289.4 405.9L287.4 401.7L283.3 399.0L279.1 396.9L275.7 394.9L273.0 396.3L269.5 396.9L265.2 395.3L264.1 400.4L261.3 405.9L264.7 407.9L269.5 410.0L270.2 414.1L275.0 415.5L279.1 416.1L283.3 418.9L288.1 420.9L292.9 419.6L298.3 419.6L302.5 421.6L306.6 424.4L310.0 425.1M310.0 402.4L313.4 404.5L318.2 406.5L323.7 408.6L326.5 412.7L327.8 416.8L331.9 418.9L337.4 418.6L340.2 421.6L340.9 427.1L340.4 431.5L336.1 429.9L331.9 427.8L327.8 426.4L323.7 428.2L318.2 426.4L313.4 425.7L310.0 424.6M327.1 410.0L330.6 409.0L335.4 408.6L336.1 410.4L333.3 412.3L329.2 412.7L327.1 411.8L327.1 410.0M342.9 427.8L347.0 426.4L351.1 429.2L349.1 432.6L347.0 433.7L344.3 430.5L342.9 427.8M357.3 427.8L359.1 428.5L358.3 435.3L355.9 435.6L355.0 434.0L356.6 429.9L357.3 427.8M362.1 431.2L366.2 429.6L370.3 430.5L371.0 426.4L373.1 424.4L375.1 426.4L377.2 426.0L379.9 427.8L381.3 432.6L378.6 433.7L374.5 433.3L370.3 435.3L367.6 438.1L364.2 438.4L361.8 435.3L362.1 431.2M389.5 428.5L393.0 426.8L397.8 427.8L400.5 431.2L404.6 431.9L408.7 430.5L412.9 429.2L414.9 427.1L415.6 424.4L417.7 424.1L418.1 426.8L415.6 429.9L412.9 432.6L407.4 434.7L403.3 435.3L401.2 437.0L397.8 436.0L393.7 434.0L390.2 432.6L389.5 428.5M382.0 442.9L386.8 441.9L391.6 442.9L395.7 446.3L398.5 449.7L395.0 453.9L391.6 451.8L388.2 448.4L384.1 447.0L382.0 444.9L382.0 442.9M386.1 375.0L385.2 381.9L385.4 387.3L388.2 390.8L392.3 389.8L393.4 383.2L393.9 375.0M404.6 375.0L406.0 379.1L408.1 381.2L410.1 378.4L411.5 381.9L412.2 387.3L414.9 392.1L418.3 388.7L419.0 381.9L417.7 375.0M515.0 390.8L519.1 389.4L521.2 394.2L520.5 401.1L518.5 406.5L515.7 409.0L515.3 402.4L516.4 395.6L515.0 390.8M490.3 414.8L493.4 411.3L494.5 415.5L492.4 420.9L489.7 422.7L490.1 418.2L490.3 414.8M443.0 419.6L446.5 417.5L450.6 417.5L449.2 421.6L445.8 423.3L443.0 422.3L443.0 419.6M430.0 426.4L434.1 426.0L436.2 427.4L432.7 428.8L430.0 429.2M430.0 439.5L432.7 436.7L435.5 432.6L439.6 430.5L445.1 429.2L450.6 427.8L455.4 427.8L454.0 431.2L450.6 434.0L446.5 436.7L442.3 438.8L438.2 440.8L434.8 444.3L432.1 449.1L430.0 451.8L425.9 455.2L423.8 458.7M381.5 442.7L385.7 441.4L390.5 442.1L394.6 445.5L398.7 451.0L394.6 453.7L391.1 450.3L387.0 447.5L382.9 446.9L381.5 442.7M432.7 436.7L430.2 440.0L425.4 444.1L422.7 449.6L422.0 455.1L426.1 454.4L430.2 452.3L433.0 448.2L437.8 442.7L441.2 440.0L446.0 435.9M482.1 469.5L484.9 468.1L487.6 470.2L490.3 468.5L492.8 469.5L493.1 472.9L490.3 475.7L489.0 477.7L484.9 475.9L481.4 474.3L482.1 469.5M500.6 469.5L504.7 470.9L508.9 472.9L512.3 475.7L517.8 477.0L523.3 479.1L527.4 481.1L531.5 479.8L532.9 482.5L534.2 485.3L536.3 480.5L538.3 478.7L541.8 482.5L541.1 486.6L539.7 490.7L539.0 494.9L534.2 495.5L533.5 500.3L532.2 505.8L531.5 511.3L530.1 516.8L531.5 520.2L535.6 523.0L537.7 527.8L538.3 530.0M500.6 469.5L502.7 472.9L503.4 477.0L502.0 481.1L494.5 481.8L489.0 482.5L485.5 485.9L482.8 490.7L481.8 494.9L482.8 499.0L478.7 499.7L477.3 504.5L475.3 508.6L473.9 512.0L476.6 514.7L478.0 517.5L476.6 520.9L473.9 518.2L469.8 516.1L465.7 518.2L463.6 520.9L462.9 516.8L462.2 512.7L459.5 508.6L456.1 504.5L452.6 503.1L449.9 503.8L447.8 507.2L443.7 508.6L441.7 512.7L437.5 514.1L435.5 518.2L433.4 522.3L431.4 525.7L430.7 530.0M610.0 370.1L615.8 374.7L619.9 380.8L621.9 389.1L628.1 393.2L634.3 394.2L638.4 398.3L639.4 403.5L636.3 407.6L632.2 409.6L635.3 415.8L639.4 422.0L643.5 427.1L644.6 436.4L649.7 438.4L652.8 443.6L656.9 444.6L659.0 449.9L662.1 456.9M661.0 390.3L654.9 391.5L648.7 390.7L642.3 391.5L645.0 394.2L647.7 394.8L649.7 397.5L653.2 399.8L661.0 400.6M548.9 428.1L552.0 422.0L553.0 415.8L557.1 413.7L555.1 405.5L553.0 397.3L551.0 389.1L545.8 383.9L539.7 379.8L531.4 376.7L524.2 373.6L519.1 369.5M548.9 428.1L558.2 426.1L568.5 424.0L571.5 430.2L576.7 435.3L584.9 438.4L592.1 440.1L598.3 436.4L597.3 431.2L601.4 426.1L605.5 419.9L608.6 416.8L613.7 417.9L619.9 423.0L625.0 430.2L630.2 438.4L634.3 446.7L636.3 449.9M538.0 530.6L543.8 530.6L547.9 534.3L552.0 538.5L558.2 542.6L561.9 544.6L564.3 549.8L567.4 553.9L570.5 555.3L574.6 553.9L577.7 551.8L578.7 544.6L580.8 538.5L582.9 530.2L583.9 517.9L583.3 505.5L583.9 493.2L584.9 480.9L587.0 474.7L588.6 466.5L591.1 462.3L593.6 464.4L594.8 470.6L596.8 478.8L599.3 487.0L601.0 494.2L601.8 503.5L603.4 509.7L606.5 510.7L609.6 509.2L612.7 512.7L616.2 516.9L616.8 526.1L617.8 536.4L620.9 543.6L623.0 550.8L624.0 561.1L627.1 569.3L632.2 573.4L636.3 575.5L639.4 580.6L641.5 584.9L644.6 591.9M636.3 450.0L644.6 452.1L652.8 454.1L656.9 457.2L658.6 460.3L661.0 462.3M378.2 587.8L382.3 584.9L390.5 582.7L396.7 581.7L400.8 578.6L404.9 572.4L408.0 565.2L411.1 561.1L410.1 550.8L413.1 545.7L417.3 538.5L420.3 544.6L422.4 550.8L424.5 545.7L423.0 537.4L425.1 534.3L429.6 536.4L431.7 528.2M461.1 288.2L459.3 290.1L457.9 291.9L457.4 295.5L456.5 299.2L456.1 301.9L457.0 304.7L457.9 307.4L458.3 311.1L458.2 314.7L457.9 317.5L458.3 320.2L460.2 323.0L462.0 325.7L463.8 327.5L465.2 328.5L463.8 325.7L462.5 323.0L461.5 320.2L461.1 317.5L461.5 313.8L462.0 310.2L464.3 309.3L466.1 309.7L465.2 307.4L464.3 306.1L466.1 304.2L467.9 301.9L468.4 299.2L467.9 296.0L466.1 296.5L464.3 297.8L462.5 296.9L461.5 294.6L461.1 291.9L461.5 289.6L461.1 288.2M299.4 49.1L295.7 51.4L293.0 54.1L289.3 56.9L288.9 61.5L289.3 66.9L291.1 70.1L294.8 72.0L297.5 72.0L301.2 69.7L304.4 66.0L306.2 61.5L307.1 57.8L309.4 55.1L310.3 52.3L309.9 49.1L299.4 49.1M251.7 178.8L254.5 180.9L256.9 182.2L255.8 187.0L255.6 192.5L255.8 197.3L256.5 200.5L259.9 196.6L264.1 191.8L268.2 190.5L270.9 187.0L272.0 182.2L271.6 177.4L275.7 177.2L279.8 174.7L282.6 172.6" fill="none" stroke="#000" stroke-width="2.1" stroke-linejoin="round" stroke-linecap="round"/><path d="M149.4 137.0L148.8 140.7M147.8 146.2L145.7 160.2" fill="none" stroke="#000" stroke-width="4.1" stroke-linejoin="round" stroke-linecap="round"/><path d="M123.0 215.3L200.0 215.5L238.0 216.5L250.0 217.8L272.0 218.8L300.0 219.2L340.0 219.8L380.0 220.4L400.0 219.5L430.0 218.5L457.0 216.3L480.0 215.4L490.0 214.5L511.0 213.0L560.0 213.0L593.0 213.3L601.0 215.2L624.0 215.6L632.0 216.6L641.0 216.8L648.0 217.8L659.0 218.2" fill="none" stroke="#000" stroke-width="2.1" stroke-dasharray="8.4 7.6" stroke-dashoffset="0.9"/><ellipse cx="421.8" cy="428.5" rx="1.2" ry="1.0" fill="none" stroke="#000" stroke-width="2"/><ellipse cx="427.9" cy="427.8" rx="0.8" ry="0.7" fill="none" stroke="#000" stroke-width="2"/><ellipse cx="631.2" cy="344.8" rx="3.1" ry="1.6" fill="none" stroke="#000" stroke-width="2"/>
</g>
<rect x="123.50" y="49.50" width="535.00" height="536.00" fill="none" stroke="#262626" stroke-width="1"/>
<path d="M123.50 585.50v-5.30M123.50 49.50v5.30M212.50 585.50v-5.30M212.50 49.50v5.30M301.50 585.50v-5.30M301.50 49.50v5.30M390.50 585.50v-5.30M390.50 49.50v5.30M480.50 585.50v-5.30M480.50 49.50v5.30M569.50 585.50v-5.30M569.50 49.50v5.30M658.50 585.50v-5.30M658.50 49.50v5.30M123.50 585.50h5.30M658.50 585.50h-5.30M123.50 518.50h5.30M658.50 518.50h-5.30M123.50 451.50h5.30M658.50 451.50h-5.30M123.50 384.50h5.30M658.50 384.50h-5.30M123.50 317.50h5.30M658.50 317.50h-5.30M123.50 250.50h5.30M658.50 250.50h-5.30M123.50 183.50h5.30M658.50 183.50h-5.30M123.50 116.50h5.30M658.50 116.50h-5.30M123.50 49.50h5.30M658.50 49.50h-5.30" stroke="#262626" stroke-width="1" fill="none"/>
<rect x="697.50" y="577.12" width="42.00" height="8.38" fill="#00008f" shape-rendering="crispEdges"/>
<rect x="697.50" y="568.75" width="42.00" height="8.88" fill="#00009f" shape-rendering="crispEdges"/>
<rect x="697.50" y="560.38" width="42.00" height="8.88" fill="#0000af" shape-rendering="crispEdges"/>
<rect x="697.50" y="552.00" width="42.00" height="8.88" fill="#0000bf" shape-rendering="crispEdges"/>
<rect x="697.50" y="543.62" width="42.00" height="8.88" fill="#0000cf" shape-rendering="crispEdges"/>
<rect x="697.50" y="535.25" width="42.00" height="8.88" fill="#0000df" shape-rendering="crispEdges"/>
<rect x="697.50" y="526.88" width="42.00" height="8.88" fill="#0000ef" shape-rendering="crispEdges"/>
<rect x="697.50" y="518.50" width="42.00" height="8.88" fill="#0000ff" shape-rendering="crispEdges"/>
<rect x="697.50" y="510.12" width="42.00" height="8.88" fill="#0010ff" shape-rendering="crispEdges"/>
<rect x="697.50" y="501.75" width="42.00" height="8.88" fill="#0020ff" shape-rendering="crispEdges"/>
<rect x="697.50" y="493.38" width="42.00" height="8.88" fill="#0030ff" shape-rendering="crispEdges"/>
<rect x="697.50" y="485.00" width="42.00" height="8.88" fill="#0040ff" shape-rendering="crispEdges"/>
<rect x="697.50" y="476.62" width="42.00" height="8.88" fill="#0050ff" shape-rendering="crispEdges"/>
<rect x="697.50" y="468.25" width="42.00" height="8.88" fill="#0060ff" shape-rendering="crispEdges"/>
<rect x="697.50" y="459.88" width="42.00" height="8.88" fill="#0070ff" shape-rendering="crispEdges"/>
<rect x="697.50" y="451.50" width="42.00" height="8.88" fill="#0080ff" shape-rendering="crispEdges"/>
<rect x="697.50" y="443.12" width="42.00" height="8.88" fill="#008fff" shape-rendering="crispEdges"/>
<rect x="697.50" y="434.75" width="42.00" height="8.88" fill="#009fff" shape-rendering="crispEdges"/>
<rect x="697.50" y="426.38" width="42.00" height="8.88" fill="#00afff" shape-rendering="crispEdges"/>
<rect x="697.50" y="418.00" width="42.00" height="8.88" fill="#00bfff" shape-rendering="crispEdges"/>
<rect x="697.50" y="409.62" width="42.00" height="8.88" fill="#00cfff" shape-rendering="crispEdges"/>
<rect x="697.50" y="401.25" width="42.00" height="8.88" fill="#00dfff" shape-rendering="crispEdges"/>
<rect x="697.50" y="392.88" width="42.00" height="8.88" fill="#00efff" shape-rendering="crispEdges"/>
<rect x="697.50" y="384.50" width="42.00" height="8.88" fill="#00ffff" shape-rendering="crispEdges"/>
<rect x="697.50" y="376.12" width="42.00" height="8.88" fill="#10ffef" shape-rendering="crispEdges"/>
<rect x="697.50" y="367.75" width="42.00" height="8.88" fill="#20ffdf" shape-rendering="crispEdges"/>
<rect x="697.50" y="359.38" width="42.00" height="8.88" fill="#30ffcf" shape-rendering="crispEdges"/>
<rect x="697.50" y="351.00" width="42.00" height="8.88" fill="#40ffbf" shape-rendering="crispEdges"/>
<rect x="697.50" y="342.62" width="42.00" height="8.88" fill="#50ffaf" shape-rendering="crispEdges"/>
<rect x="697.50" y="334.25" width="42.00" height="8.88" fill="#60ff9f" shape-rendering="crispEdges"/>
<rect x="697.50" y="325.88" width="42.00" height="8.88" fill="#70ff8f" shape-rendering="crispEdges"/>
<rect x="697.50" y="317.50" width="42.00" height="8.88" fill="#80ff80" shape-rendering="crispEdges"/>
<rect x="697.50" y="309.12" width="42.00" height="8.88" fill="#8fff70" shape-rendering="crispEdges"/>
<rect x="697.50" y="300.75" width="42.00" height="8.88" fill="#9fff60" shape-rendering="crispEdges"/>
<rect x="697.50" y="292.38" width="42.00" height="8.88" fill="#afff50" shape-rendering="crispEdges"/>
<rect x="697.50" y="284.00" width="42.00" height="8.88" fill="#bfff40" shape-rendering="crispEdges"/>
<rect x="697.50" y="275.62" width="42.00" height="8.88" fill="#cfff30" shape-rendering="crispEdges"/>
<rect x="697.50" y="267.25" width="42.00" height="8.88" fill="#dfff20" shape-rendering="crispEdges"/>
<rect x="697.50" y="258.88" width="42.00" height="8.88" fill="#efff10" shape-rendering="crispEdges"/>
<rect x="697.50" y="250.50" width="42.00" height="8.88" fill="#ffff00" shape-rendering="crispEdges"/>
<rect x="697.50" y="242.12" width="42.00" height="8.88" fill="#ffef00" shape-rendering="crispEdges"/>
<rect x="697.50" y="233.75" width="42.00" height="8.88" fill="#ffdf00" shape-rendering="crispEdges"/>
<rect x="697.50" y="225.38" width="42.00" height="8.88" fill="#ffcf00" shape-rendering="crispEdges"/>
<rect x="697.50" y="217.00" width="42.00" height="8.88" fill="#ffbf00" shape-rendering="crispEdges"/>
<rect x="697.50" y="208.62" width="42.00" height="8.88" fill="#ffaf00" shape-rendering="crispEdges"/>
<rect x="697.50" y="200.25" width="42.00" height="8.88" fill="#ff9f00" shape-rendering="crispEdges"/>
<rect x="697.50" y="191.88" width="42.00" height="8.88" fill="#ff8f00" shape-rendering="crispEdges"/>
<rect x="697.50" y="183.50" width="42.00" height="8.88" fill="#ff8000" shape-rendering="crispEdges"/>
<rect x="697.50" y="175.12" width="42.00" height="8.88" fill="#ff7000" shape-rendering="crispEdges"/>
<rect x="697.50" y="166.75" width="42.00" height="8.88" fill="#ff6000" shape-rendering="crispEdges"/>
<rect x="697.50" y="158.38" width="42.00" height="8.88" fill="#ff5000" shape-rendering="crispEdges"/>
<rect x="697.50" y="150.00" width="42.00" height="8.88" fill="#ff4000" shape-rendering="crispEdges"/>
<rect x="697.50" y="141.62" width="42.00" height="8.88" fill="#ff3000" shape-rendering="crispEdges"/>
<rect x="697.50" y="133.25" width="42.00" height="8.88" fill="#ff2000" shape-rendering="crispEdges"/>
<rect x="697.50" y="124.88" width="42.00" height="8.88" fill="#ff1000" shape-rendering="crispEdges"/>
<rect x="697.50" y="116.50" width="42.00" height="8.88" fill="#ff0000" shape-rendering="crispEdges"/>
<rect x="697.50" y="108.12" width="42.00" height="8.88" fill="#ef0000" shape-rendering="crispEdges"/>
<rect x="697.50" y="99.75" width="42.00" height="8.88" fill="#df0000" shape-rendering="crispEdges"/>
<rect x="697.50" y="91.38" width="42.00" height="8.88" fill="#cf0000" shape-rendering="crispEdges"/>
<rect x="697.50" y="83.00" width="42.00" height="8.88" fill="#bf0000" shape-rendering="crispEdges"/>
<rect x="697.50" y="74.62" width="42.00" height="8.88" fill="#af0000" shape-rendering="crispEdges"/>
<rect x="697.50" y="66.25" width="42.00" height="8.88" fill="#9f0000" shape-rendering="crispEdges"/>
<rect x="697.50" y="57.88" width="42.00" height="8.88" fill="#8f0000" shape-rendering="crispEdges"/>
<rect x="697.50" y="49.50" width="42.00" height="8.88" fill="#800000" shape-rendering="crispEdges"/>
<rect x="697.50" y="49.50" width="42.00" height="536.00" fill="none" stroke="#262626" stroke-width="1"/>
<path d="M739.50 531.90h-5.3M739.50 478.30h-5.3M739.50 424.70h-5.3M739.50 371.10h-5.3M739.50 317.50h-5.3M739.50 263.90h-5.3M739.50 210.30h-5.3M739.50 156.70h-5.3M739.50 103.10h-5.3" stroke="#262626" stroke-width="1" fill="none"/>
<text x="123.00" y="614.1" font-size="20.8" text-anchor="middle" fill="#262626" font-family="Liberation Sans, sans-serif">90</text>
<text x="212.17" y="614.1" font-size="20.8" text-anchor="middle" fill="#262626" font-family="Liberation Sans, sans-serif">100</text>
<text x="301.33" y="614.1" font-size="20.8" text-anchor="middle" fill="#262626" font-family="Liberation Sans, sans-serif">110</text>
<text x="390.50" y="614.1" font-size="20.8" text-anchor="middle" fill="#262626" font-family="Liberation Sans, sans-serif">120</text>
<text x="479.67" y="614.1" font-size="20.8" text-anchor="middle" fill="#262626" font-family="Liberation Sans, sans-serif">130</text>
<text x="568.83" y="614.1" font-size="20.8" text-anchor="middle" fill="#262626" font-family="Liberation Sans, sans-serif">140</text>
<text x="658.00" y="614.1" font-size="20.8" text-anchor="middle" fill="#262626" font-family="Liberation Sans, sans-serif">150</text>
<text x="113.3" y="593.90" font-size="20.8" text-anchor="end" fill="#262626" font-family="Liberation Sans, sans-serif">-20</text>
<text x="113.3" y="526.90" font-size="20.8" text-anchor="end" fill="#262626" font-family="Liberation Sans, sans-serif">-15</text>
<text x="113.3" y="459.90" font-size="20.8" text-anchor="end" fill="#262626" font-family="Liberation Sans, sans-serif">-10</text>
<text x="113.3" y="392.90" font-size="20.8" text-anchor="end" fill="#262626" font-family="Liberation Sans, sans-serif">-5</text>
<text x="113.3" y="325.90" font-size="20.8" text-anchor="end" fill="#262626" font-family="Liberation Sans, sans-serif">0</text>
<text x="113.3" y="258.90" font-size="20.8" text-anchor="end" fill="#262626" font-family="Liberation Sans, sans-serif">5</text>
<text x="113.3" y="191.90" font-size="20.8" text-anchor="end" fill="#262626" font-family="Liberation Sans, sans-serif">10</text>
<text x="113.3" y="124.90" font-size="20.8" text-anchor="end" fill="#262626" font-family="Liberation Sans, sans-serif">15</text>
<text x="113.3" y="57.90" font-size="20.8" text-anchor="end" fill="#262626" font-family="Liberation Sans, sans-serif">20</text>
<text x="746.7" y="592.50" font-size="19.2" fill="#262626" font-family="Liberation Sans, sans-serif">0</text>
<text x="746.7" y="538.90" font-size="19.2" fill="#262626" font-family="Liberation Sans, sans-serif">10</text>
<text x="746.7" y="485.30" font-size="19.2" fill="#262626" font-family="Liberation Sans, sans-serif">20</text>
<text x="746.7" y="431.70" font-size="19.2" fill="#262626" font-family="Liberation Sans, sans-serif">30</text>
<text x="746.7" y="378.10" font-size="19.2" fill="#262626" font-family="Liberation Sans, sans-serif">40</text>
<text x="746.7" y="324.50" font-size="19.2" fill="#262626" font-family="Liberation Sans, sans-serif">50</text>
<text x="746.7" y="270.90" font-size="19.2" fill="#262626" font-family="Liberation Sans, sans-serif">60</text>
<text x="746.7" y="217.30" font-size="19.2" fill="#262626" font-family="Liberation Sans, sans-serif">70</text>
<text x="746.7" y="163.70" font-size="19.2" fill="#262626" font-family="Liberation Sans, sans-serif">80</text>
<text x="746.7" y="110.10" font-size="19.2" fill="#262626" font-family="Liberation Sans, sans-serif">90</text>
<text x="746.7" y="56.50" font-size="19.2" fill="#262626" font-family="Liberation Sans, sans-serif">100</text>
<text x="390.4" y="39.2" font-size="22.9" font-weight="bold" text-anchor="middle" fill="#000" font-family="Liberation Sans, sans-serif">16-Feb-2026; 00:00 UT</text>
<text x="288.2" y="645.8" font-size="22.9" fill="#262626" font-family="Liberation Sans, sans-serif">Geographic Lon. (</text>
<circle cx="477.5" cy="634.3" r="3.05" fill="none" stroke="#262626" stroke-width="1.15"/>
<text x="484.5" y="645.8" font-size="22.9" fill="#262626" font-family="Liberation Sans, sans-serif">)</text>
<g transform="translate(71.1,414.3) rotate(-90)"><text x="0" y="0" font-size="22.9" fill="#262626" font-family="Liberation Sans, sans-serif">Geographic Lat. (</text><circle cx="181.9" cy="-12.1" r="3.05" fill="none" stroke="#262626" stroke-width="1.15"/><text x="188.5" y="0" font-size="22.9" fill="#262626" font-family="Liberation Sans, sans-serif">)</text></g>
<text transform="translate(805.4,447.2) rotate(-90)" font-size="19.35" fill="#262626" font-family="Liberation Sans, sans-serif">Total Electron Content (TECU)</text>
</svg>
</body></html>
